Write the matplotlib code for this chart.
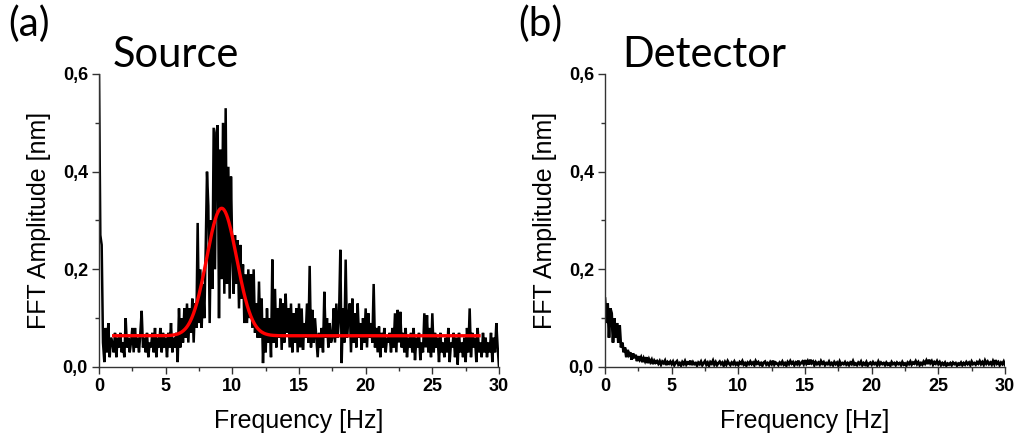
import numpy as np
import matplotlib
matplotlib.use("Agg")
import matplotlib.pyplot as plt
from matplotlib.ticker import MultipleLocator, FuncFormatter

# FFT amplitude spectra, sampled every 0.1 Hz from 0 to 30 Hz
freq_step = 0.1

source_amp = [
    0.60, 0.27, 0.25, 0.05, 0.01, 0.08, 0.03, 0.09, 0.02, 0.06,
    0.05, 0.03, 0.07, 0.02, 0.06, 0.04, 0.07, 0.03, 0.05, 0.02,
    0.10, 0.04, 0.06, 0.03, 0.05, 0.08, 0.03, 0.08, 0.04, 0.06,
    0.03, 0.07, 0.115, 0.04, 0.06, 0.03, 0.07, 0.02, 0.05, 0.04,
    0.07, 0.03, 0.08, 0.02, 0.06, 0.04, 0.08, 0.03, 0.07, 0.04,
    0.06, 0.02, 0.07, 0.04, 0.09, 0.03, 0.06, 0.04, 0.07, 0.01,
    0.12, 0.04, 0.10, 0.05, 0.12, 0.06, 0.13, 0.05, 0.12, 0.07,
    0.14, 0.05, 0.13, 0.08, 0.295, 0.09, 0.20, 0.08, 0.17, 0.10,
    0.24, 0.40, 0.33, 0.09, 0.30, 0.16, 0.49, 0.20, 0.48, 0.495,
    0.10, 0.445, 0.18, 0.50, 0.15, 0.53, 0.17, 0.41, 0.14, 0.39,
    0.23, 0.15, 0.27, 0.17, 0.26, 0.12, 0.25, 0.14, 0.21, 0.09,
    0.19, 0.09, 0.20, 0.10, 0.19, 0.08, 0.20, 0.07, 0.13, 0.06,
    0.175, 0.06, 0.14, 0.008, 0.10, 0.03, 0.12, 0.05, 0.10, 0.02,
    0.22, 0.05, 0.16, 0.04, 0.12, 0.06, 0.14, 0.035, 0.13, 0.05,
    0.15, 0.07, 0.12, 0.04, 0.13, 0.03, 0.11, 0.05, 0.12, 0.03,
    0.13, 0.04, 0.12, 0.035, 0.09, 0.06, 0.13, 0.05, 0.207, 0.04,
    0.117, 0.05, 0.10, 0.06, 0.02, 0.07, 0.04, 0.08, 0.03, 0.154,
    0.06, 0.10, 0.04, 0.09, 0.05, 0.06, 0.12, 0.05, 0.13, 0.06,
    0.10, 0.24, 0.008, 0.12, 0.05, 0.22, 0.06, 0.10, 0.13, 0.03,
    0.14, 0.05, 0.11, 0.04, 0.13, 0.06, 0.09, 0.035, 0.10, 0.05,
    0.12, 0.04, 0.11, 0.06, 0.09, 0.05, 0.17, 0.04, 0.08, 0.03,
    0.083, 0.02, 0.07, 0.04, 0.08, 0.03, 0.06, 0.05, 0.07, 0.03,
    0.08, 0.04, 0.11, 0.03, 0.117, 0.05, 0.113, 0.04, 0.07, 0.03,
    0.08, 0.02, 0.06, 0.04, 0.07, 0.03, 0.08, 0.014, 0.06, 0.04,
    0.07, 0.014, 0.05, 0.03, 0.11, 0.04, 0.106, 0.03, 0.08, 0.02,
    0.11, 0.03, 0.07, 0.04, 0.06, 0.01, 0.07, 0.03, 0.05, 0.02,
    0.06, 0.03, 0.08, 0.01, 0.05, 0.04, 0.07, 0.02, 0.06, 0.005,
    0.07, 0.03, 0.05, 0.02, 0.06, 0.01, 0.08, 0.03, 0.12, 0.02,
    0.07, 0.04, 0.06, 0.01, 0.08, 0.03, 0.05, 0.02, 0.07, 0.03,
    0.06, 0.02, 0.05, 0.03, 0.07, 0.01, 0.06, 0.03, 0.09, 0.04,
    0.0,
]

detector_amp = [
    0.14, 0.09, 0.13, 0.06, 0.12, 0.11, 0.05, 0.10, 0.06, 0.09,
    0.05, 0.085, 0.04, 0.05, 0.03, 0.04, 0.02, 0.035, 0.025, 0.03,
    0.015, 0.028, 0.018, 0.025, 0.012, 0.022, 0.015, 0.02, 0.01, 0.018,
    0.012, 0.02, 0.008, 0.016, 0.01, 0.015, 0.006, 0.013, 0.009, 0.012,
    0.007, 0.012, 0.005, 0.011, 0.008, 0.013, 0.004, 0.01, 0.007, 0.011,
    0.006, 0.011, 0.004, 0.009, 0.012, 0.005, 0.008, 0.003, 0.010, 0.006,
    0.012, 0.005, 0.009, 0.007, 0.013, 0.004, 0.010, 0.006, 0.008, 0.003,
    0.009, 0.006, 0.011, 0.004, 0.008, 0.012, 0.005, 0.009, 0.003, 0.010,
    0.007, 0.013, 0.005, 0.010, 0.004, 0.008, 0.011, 0.006, 0.009, 0.003,
    0.010, 0.005, 0.012, 0.007, 0.004, 0.009, 0.006, 0.011, 0.005, 0.008,
    0.004, 0.010, 0.007, 0.012, 0.005, 0.008, 0.003, 0.009, 0.006, 0.011,
    0.006, 0.009, 0.004, 0.012, 0.007, 0.010, 0.005, 0.008, 0.003, 0.009,
    0.011, 0.005, 0.008, 0.004, 0.010, 0.006, 0.013, 0.005, 0.009, 0.007,
    0.004, 0.009, 0.006, 0.011, 0.005, 0.008, 0.003, 0.010, 0.006, 0.012,
    0.007, 0.010, 0.004, 0.009, 0.006, 0.013, 0.005, 0.008, 0.011, 0.006,
    0.014, 0.007, 0.012, 0.005, 0.015, 0.008, 0.011, 0.004, 0.010, 0.006,
    0.009, 0.005, 0.012, 0.007, 0.010, 0.004, 0.008, 0.006, 0.011, 0.005,
    0.008, 0.004, 0.010, 0.006, 0.009, 0.003, 0.011, 0.005, 0.008, 0.006,
    0.010, 0.005, 0.008, 0.004, 0.009, 0.006, 0.012, 0.005, 0.007, 0.004,
    0.009, 0.006, 0.011, 0.004, 0.008, 0.005, 0.010, 0.003, 0.007, 0.009,
    0.005, 0.010, 0.006, 0.008, 0.004, 0.011, 0.005, 0.009, 0.006, 0.008,
    0.004, 0.009, 0.005, 0.007, 0.003, 0.010, 0.006, 0.008, 0.004, 0.009,
    0.006, 0.008, 0.004, 0.010, 0.005, 0.007, 0.003, 0.009, 0.006, 0.011,
    0.005, 0.009, 0.007, 0.012, 0.006, 0.010, 0.004, 0.008, 0.005, 0.011,
    0.007, 0.013, 0.006, 0.015, 0.008, 0.012, 0.005, 0.010, 0.007, 0.012,
    0.006, 0.010, 0.004, 0.008, 0.005, 0.009, 0.003, 0.007, 0.005, 0.008,
    0.004, 0.009, 0.006, 0.008, 0.003, 0.007, 0.005, 0.009, 0.004, 0.008,
    0.005, 0.010, 0.006, 0.009, 0.004, 0.011, 0.006, 0.008, 0.005, 0.010,
    0.007, 0.012, 0.006, 0.010, 0.005, 0.013, 0.007, 0.011, 0.006, 0.009,
    0.005, 0.012, 0.006, 0.014, 0.007, 0.010, 0.004, 0.009, 0.006, 0.011,
    0.004,
]

# Gaussian fit of the source spectrum (offset + peak)
fit_offset = 0.064
fit_amplitude = 0.261
fit_center = 9.2
fit_sigma = 1.13
fit_range = (1.1, 28.5)

panel_letters = ["(a)", "(b)"]
panel_titles = ["Source", "Detector"]
x_label = "Frequency [Hz]"
y_label = "FFT Amplitude [nm]"
x_limits = (0, 30)
y_limits = (0, 0.6)

W, H = 1018, 441
fig = plt.figure(figsize=(W / 100, H / 100), dpi=100)

axes_left_px = [99, 605]
axes_width_px = 400
axes_top_px, axes_bottom_px = 74, 367

tick_font = dict(family="Liberation Sans", weight="bold", size=13)
label_font = dict(family="Liberation Sans", size=18)
title_font = dict(family="Lato", size=30)
letter_font = dict(family="Lato", size=29)

comma_fmt = FuncFormatter(lambda v, pos: f"{v:.1f}".replace(".", ","))
int_fmt = FuncFormatter(lambda v, pos: f"{v:.0f}")

spectra = [source_amp, detector_amp]
line_widths = [1.8, 2.0]
axes = []
for i, left_px in enumerate(axes_left_px):
    ax = fig.add_axes([left_px / W, (H - axes_bottom_px) / H,
                       axes_width_px / W, (axes_bottom_px - axes_top_px) / H])
    amp = np.asarray(spectra[i])
    freq = np.arange(len(amp)) * freq_step
    ax.plot(freq, amp, color="black", lw=line_widths[i],
            solid_joinstyle="miter", zorder=2)

    ax.set_xlim(*x_limits)
    ax.set_ylim(*y_limits)
    for side in ("top", "right"):
        ax.spines[side].set_visible(False)
    for side in ("left", "bottom"):
        ax.spines[side].set_linewidth(1.0)
        ax.spines[side].set_color("#333333")

    ax.xaxis.set_major_locator(MultipleLocator(5))
    ax.xaxis.set_minor_locator(MultipleLocator(2.5))
    ax.yaxis.set_major_locator(MultipleLocator(0.2))
    ax.yaxis.set_minor_locator(MultipleLocator(0.1))
    ax.xaxis.set_major_formatter(int_fmt)
    ax.yaxis.set_major_formatter(comma_fmt)
    ax.tick_params(which="major", direction="out", length=5, width=1.0,
                   color="#333333", pad=3)
    ax.tick_params(which="minor", direction="out", length=3, width=1.0,
                   color="#333333")
    for lab in ax.get_xticklabels() + ax.get_yticklabels():
        lab.set_fontfamily(tick_font["family"])
        lab.set_fontweight(tick_font["weight"])
        lab.set_fontsize(tick_font["size"])

    ax.set_xlabel(x_label, **label_font)
    ax.set_ylabel(y_label, **label_font)
    ax.xaxis.set_label_coords(0.5, -0.145)
    ax.yaxis.set_label_coords(-0.12, 0.5)
    axes.append(ax)

# Gaussian fit curve on the source panel
fx = np.linspace(fit_range[0], fit_range[1], 600)
fy = fit_offset + fit_amplitude * np.exp(-0.5 * ((fx - fit_center) / fit_sigma) ** 2)
axes[0].plot(fx, fy, color="#ff0000", lw=2.4, zorder=3)

# Panel letters and titles
letter_x_px = [8, 518]
title_x_px = [113, 622]
for i in range(2):
    fig.text(letter_x_px[i] / W, 1 - 36 / H, panel_letters[i],
             ha="left", va="baseline", **letter_font)
    fig.text(title_x_px[i] / W, 1 - 67 / H, panel_titles[i],
             ha="left", va="baseline", **title_font)

fig.savefig("out.png", dpi=100)
